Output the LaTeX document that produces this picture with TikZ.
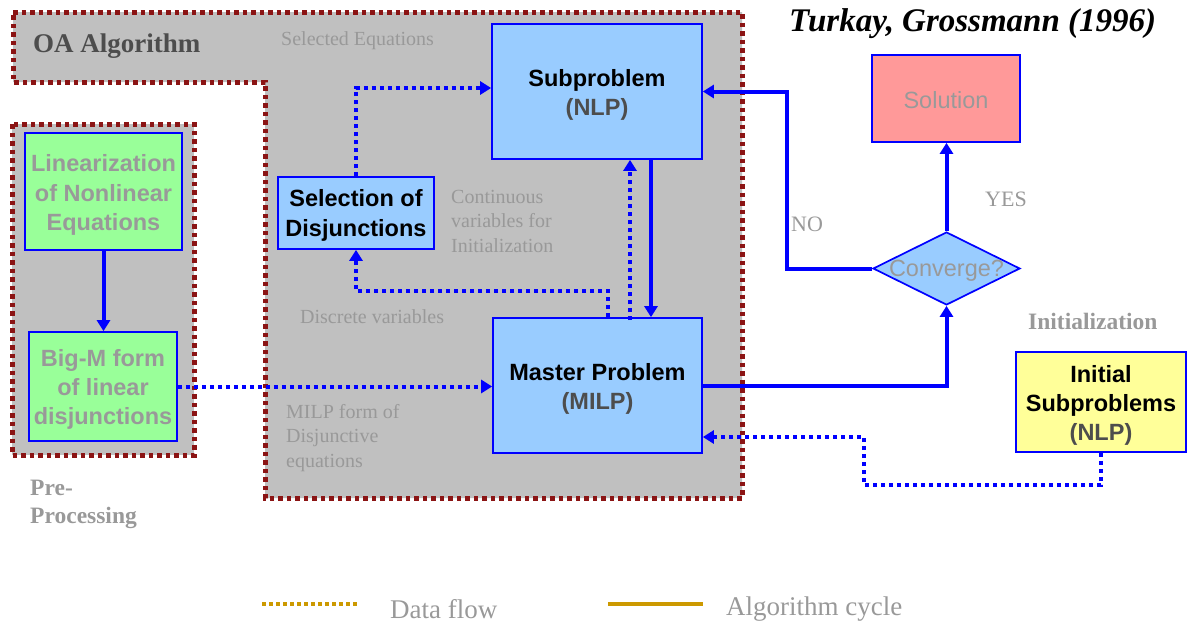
\documentclass[tikz,border=0pt]{standalone}
\usepackage{fontspec}
\setmainfont{Liberation Serif}
\setsansfont{Liberation Sans}
\usetikzlibrary{arrows.meta,shapes.geometric}
\definecolor{regiongray}{HTML}{C0C0C0}
\definecolor{regionred}{HTML}{8B1414}
\definecolor{flowblue}{HTML}{0000FF}
\definecolor{boxblue}{HTML}{99CCFF}
\definecolor{boxgreen}{HTML}{99FF99}
\definecolor{boxred}{HTML}{FF9999}
\definecolor{boxyellow}{HTML}{FFFF99}
\definecolor{softgray}{HTML}{999999}
\definecolor{darkgray}{HTML}{4D4D4D}
\definecolor{legendgold}{HTML}{CC9900}
\tikzset{
  region/.style={fill=regiongray, draw=regionred, line width=5pt, dash pattern=on 4.5pt off 4pt},
  procbox/.style={draw=flowblue, line width=1.7pt, inner sep=0pt},
  boxtext/.style={align=center, inner sep=0pt,
    font=\sffamily\bfseries\fontsize{23.5}{29.3}\selectfont},
  flow/.style={draw=flowblue, line width=4pt, dash pattern=on 4pt off 4pt,
    -{Triangle[length=11pt,width=13pt]}},
  cycle/.style={draw=flowblue, line width=4pt, -{Triangle[length=11pt,width=13pt]}},
  note/.style={text=softgray, inner sep=0pt, anchor=west, align=left,
    font=\rmfamily\fontsize{20}{24.5}\selectfont},
  boldnote/.style={text=softgray, inner sep=0pt, anchor=west, align=left,
    font=\rmfamily\bfseries\fontsize{23.5}{28}\selectfont},
}
\begin{document}
\begin{tikzpicture}[x=1pt,y=-1pt]
\useasboundingbox (0,0) rectangle (1194,624);

% shaded regions with dotted frames
\path[region] (13,12) -- (742,12) -- (742,498) -- (265,498) -- (265,82) -- (13,82) -- cycle;
\path[region] (12,124) rectangle (194,455);

% titles of the regions
\node[inner sep=0pt, anchor=west, text=darkgray, font=\rmfamily\bfseries\fontsize{27}{30}\selectfont] (oa) at (33,46) {OA Algorithm};
\node[boldnote] (pre) at (30,504) {Pre-\\Processing};
\node[inner sep=0pt, anchor=west, font=\rmfamily\bfseries\itshape\fontsize{33}{36}\selectfont] (ref) at (789,24) {Turkay, Grossmann (1996)};

% pre-processing steps
\node[procbox, fill=boxgreen, minimum width=157pt, minimum height=117pt] (lin) at (103.5,191.5) {};
\node[boxtext, text=softgray] (lintext) at ([yshift=-3.5pt]lin.center) {Linearization\\of Nonlinear\\Equations};
\node[procbox, fill=boxgreen, minimum width=148pt, minimum height=109pt] (bigm) at (103,386.5) {};
\node[boxtext, text=softgray] (bigmtext) at ([yshift=-3pt]bigm.center) {Big-M form\\of linear\\disjunctions};

% OA algorithm steps
\node[procbox, fill=boxblue, minimum width=210pt, minimum height=135pt] (sub) at (597,91.5) {};
\node[boxtext] (subtext) at ([yshift=-3.5pt]sub.center) {Subproblem\\\textcolor{darkgray}{(NLP)}};
\node[procbox, fill=boxblue, minimum width=209pt, minimum height=135pt] (master) at (597.5,385.5) {};
\node[boxtext] (mastertext) at ([yshift=-3.5pt]master.center) {Master Problem\\\textcolor{darkgray}{(MILP)}};
\node[procbox, fill=boxblue, minimum width=156pt, minimum height=72pt] (sel) at (356,213) {};
\node[boxtext] (seltext) at ([yshift=-2.5pt]sel.center) {Selection of\\Disjunctions};

% convergence test, solution and initialization
\node[shape=diamond, draw=flowblue, line width=1.7pt, fill=boxblue, inner sep=0pt, minimum width=147pt, minimum height=73pt] (conv) at (946.5,268.5) {};
\node[inner sep=0pt, text=softgray, font=\sffamily\fontsize{23.5}{29}\selectfont] (convtext) at (946.5,271) {Converge?};
\node[procbox, fill=boxred, minimum width=148pt, minimum height=87pt] (sol) at (946,98.5) {};
\node[inner sep=0pt, text=softgray, font=\sffamily\fontsize{23.5}{29}\selectfont] (soltext) at ([yshift=-2pt]sol.center) {Solution};
\node[procbox, fill=boxyellow, minimum width=170pt, minimum height=100pt] (init) at (1101,402) {};
\node[boxtext] (inittext) at ([yshift=-3.5pt]init.center) {Initial\\Subproblems\\\textcolor{darkgray}{(NLP)}};
\node[boldnote] (initlabel) at (1028,321) {Initialization};

% data labels
\node[note] (selEq) at (281,41) {Selected Equations};
\node[note] (contvar) at (451,221) {Continuous\\variables for\\Initialization};
\node[note] (discvar) at (300,317) {Discrete variables};
\node[note] (milpform) at (286,438) {MILP form of\\Disjunctive\\equations};
\node[note, font=\rmfamily\fontsize{22}{26}\selectfont] (no) at (791,224) {NO};
\node[note, font=\rmfamily\fontsize{22}{26}\selectfont] (yes) at (985,199) {YES};

% algorithm cycle
\draw[cycle] (lin.south) -- (lin.south |- bigm.north);
\draw[cycle] ([xshift=54pt]sub.south) -- ([xshift=54pt]sub.south |- master.north);
\draw[cycle] (master.east) -| (conv.south);
\draw[cycle] (conv.north) -- (conv.north |- sol.south);
\draw[cycle] (conv.west) -- ++(-85,0) |- (sub.east);

% data flow
\draw[flow] (bigm.east) -- (bigm.east -| master.west);
\draw[flow] (sel.north) |- ([yshift=3.5pt]sub.west);
\draw[flow] ([xshift=10.5pt]master.north) -- ++(0,-26) -| (sel.south);
\draw[flow] ([xshift=32.5pt,yshift=-3pt]master.north) -- ([xshift=32.5pt]master.north |- sub.south);
\coordinate (initbend) at (864,485);
\draw[flow] (init.south) |- (initbend) |- ([yshift=-51.5pt]master.east);

% legend
\coordinate (ldA) at (262,604);
\coordinate (ldB) at (357,604);
\coordinate (lcA) at (608,604);
\coordinate (lcB) at (703,604);
\draw[legendgold, line width=4pt, dash pattern=on 3.5pt off 3.5pt] (ldA) -- (ldB);
\draw[legendgold, line width=4.5pt] (lcA) -- (lcB);
\node[note, font=\rmfamily\fontsize{27}{30}\selectfont] (ldtext) at (390,609) {Data flow};
\node[note, font=\rmfamily\fontsize{27}{30}\selectfont] (lctext) at (726,609) {Algorithm cycle};
\end{tikzpicture}
\end{document}
